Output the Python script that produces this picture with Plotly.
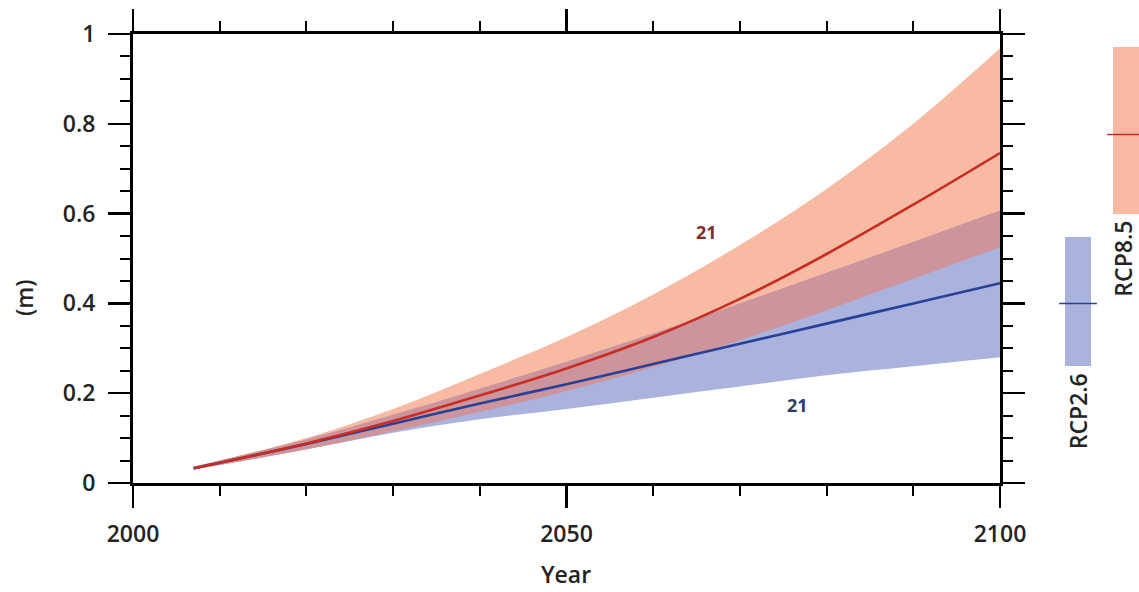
import numpy as np
import plotly.graph_objects as go

# ---- data ----
years = [2007, 2010, 2020, 2030, 2040, 2050, 2060, 2070, 2080, 2090, 2100]
rcp85_median = [0.033, 0.045, 0.088, 0.138, 0.195, 0.255, 0.325, 0.410, 0.510, 0.620, 0.735]
rcp85_upper = [0.036, 0.050, 0.100, 0.165, 0.243, 0.325, 0.420, 0.530, 0.655, 0.800, 0.968]
rcp85_lower = [0.030, 0.040, 0.075, 0.115, 0.158, 0.205, 0.258, 0.318, 0.385, 0.455, 0.525]
rcp26_median = [0.033, 0.045, 0.087, 0.132, 0.177, 0.220, 0.265, 0.310, 0.355, 0.400, 0.445]
rcp26_upper = [0.036, 0.050, 0.097, 0.152, 0.210, 0.270, 0.333, 0.400, 0.468, 0.537, 0.607]
rcp26_lower = [0.030, 0.040, 0.075, 0.112, 0.142, 0.165, 0.190, 0.215, 0.240, 0.260, 0.280]

scenarios = ["RCP2.6", "RCP8.5"]
bar_low = [0.26, 0.60]
bar_high = [0.547, 0.97]
bar_mid = [0.40, 0.776]

x_ticks = [2000, 2050, 2100]
y_tick_vals = [0, 0.2, 0.4, 0.6, 0.8, 1]
y_tick_text = ["0", "0.2", "0.4", "0.6", "0.8", "1"]

# ---- styles ----
C_RED_BAND = "rgb(248,186,162)"
C_BLUE_BAND = "rgb(170,179,222)"
C_OVER = "rgb(205,148,156)"
C_RED = "rgb(200,45,35)"
C_BLUE = "rgb(40,65,150)"
FONT = "Open Sans"
TXT = "rgb(35,35,35)"

W, H = 1139, 592
L = 133
T = 34
B = H - 483
plot_w = W - L
plot_h = H - T - B
main_frac = (1000 - L) / plot_w
bar_frac0 = (1054 - L) / plot_w


def px(xp):
    return (xp - L) / plot_w


def py(yp):
    return (H - B - yp) / plot_h


ov_low = np.maximum(rcp85_lower, rcp26_lower)
ov_high = np.minimum(rcp85_upper, rcp26_upper)

fig = go.Figure()


def add_band(lo, hi, color):
    fig.add_trace(go.Scatter(x=years, y=list(lo), mode="lines",
                             line=dict(width=0, shape="spline"),
                             hoverinfo="skip", showlegend=False))
    fig.add_trace(go.Scatter(x=years, y=list(hi), mode="lines",
                             line=dict(width=0, shape="spline"),
                             fill="tonexty", fillcolor=color,
                             hoverinfo="skip", showlegend=False))


add_band(rcp85_lower, rcp85_upper, C_RED_BAND)
add_band(rcp26_lower, rcp26_upper, C_BLUE_BAND)
add_band(ov_low, ov_high, C_OVER)

fig.add_trace(go.Scatter(x=years, y=rcp26_median, mode="lines",
                         line=dict(color=C_BLUE, width=2.6, shape="spline"),
                         showlegend=False))
fig.add_trace(go.Scatter(x=years, y=rcp85_median, mode="lines",
                         line=dict(color=C_RED, width=2.6, shape="spline"),
                         showlegend=False))

# side bars (2081-2100 ranges)
fig.add_trace(go.Bar(x=scenarios, y=[h - l for h, l in zip(bar_high, bar_low)],
                     base=bar_low,
                     marker=dict(color=[C_BLUE_BAND, C_RED_BAND], line=dict(width=0)),
                     width=0.53, xaxis="x2", yaxis="y", showlegend=False))
fig.add_trace(go.Scatter(x=scenarios, y=bar_mid, mode="markers",
                         marker=dict(symbol="line-ew", size=27,
                                     line=dict(width=1.5, color=[C_BLUE, C_RED])),
                         xaxis="x2", yaxis="y", showlegend=False))

tick_font = dict(family=FONT, size=23, color=TXT, weight=600)
axis_common = dict(showline=True, linecolor="black", linewidth=3,
                   ticks="outside", tickcolor="black", tickwidth=2.5,
                   mirror="ticks", showgrid=False, zeroline=False,
                   tickfont=tick_font)

fig.update_layout(
    width=W, height=H,
    margin=dict(l=L, r=0, t=T, b=B, autoexpand=False),
    paper_bgcolor="white", plot_bgcolor="white",
    xaxis=dict(range=[2000, 2100], domain=[0, main_frac], tickvals=x_ticks,
               ticklen=22, ticklabelstandoff=6,
               minor=dict(dtick=10, tick0=2000, ticks="outside", ticklen=10,
                          tickwidth=2, tickcolor="black", showgrid=False),
               **axis_common),
    yaxis=dict(range=[0, 1], tickvals=y_tick_vals, ticktext=y_tick_text,
               ticklen=22, ticklabelstandoff=8,
               minor=dict(dtick=0.05, tick0=0, ticks="outside", ticklen=10,
                          tickwidth=2, tickcolor="black", showgrid=False),
               **axis_common),
    xaxis2=dict(domain=[bar_frac0, 1], range=[-0.5, 1.27], anchor="y",
                visible=False, type="category"),
    bargap=0,
)

ann_font = dict(family=FONT, size=23, color=TXT, weight=600)
fig.add_annotation(text="Year", xref="paper", yref="paper",
                   x=px(566), y=py(574), showarrow=False, font=ann_font,
                   xanchor="center", yanchor="middle")
fig.add_annotation(text="(m)", xref="paper", yref="paper", textangle=-90,
                   x=px(24), y=py(298), showarrow=False, font=ann_font,
                   xanchor="center", yanchor="middle")

for s, lo in zip(scenarios, bar_low):
    fig.add_annotation(text=s, xref="x2", yref="y", x=s, y=lo, yshift=-5,
                       xshift=-3 if s == "RCP8.5" else 0,
                       textangle=-90, showarrow=False, font=ann_font,
                       xanchor="center", yanchor="top")

fig.add_annotation(text="21", x=2066.2, y=0.56, showarrow=False,
                   font=dict(family=FONT, size=18, color="rgb(130,45,40)", weight=700))
fig.add_annotation(text="21", x=2076.6, y=0.173, showarrow=False,
                   font=dict(family=FONT, size=18, color="rgb(45,60,100)", weight=700))

fig.write_html("out.html",
               config={"displayModeBar": False, "staticPlot": True},
               post_script="document.body.style.margin='0';"
                           "document.body.style.overflow='hidden';")
